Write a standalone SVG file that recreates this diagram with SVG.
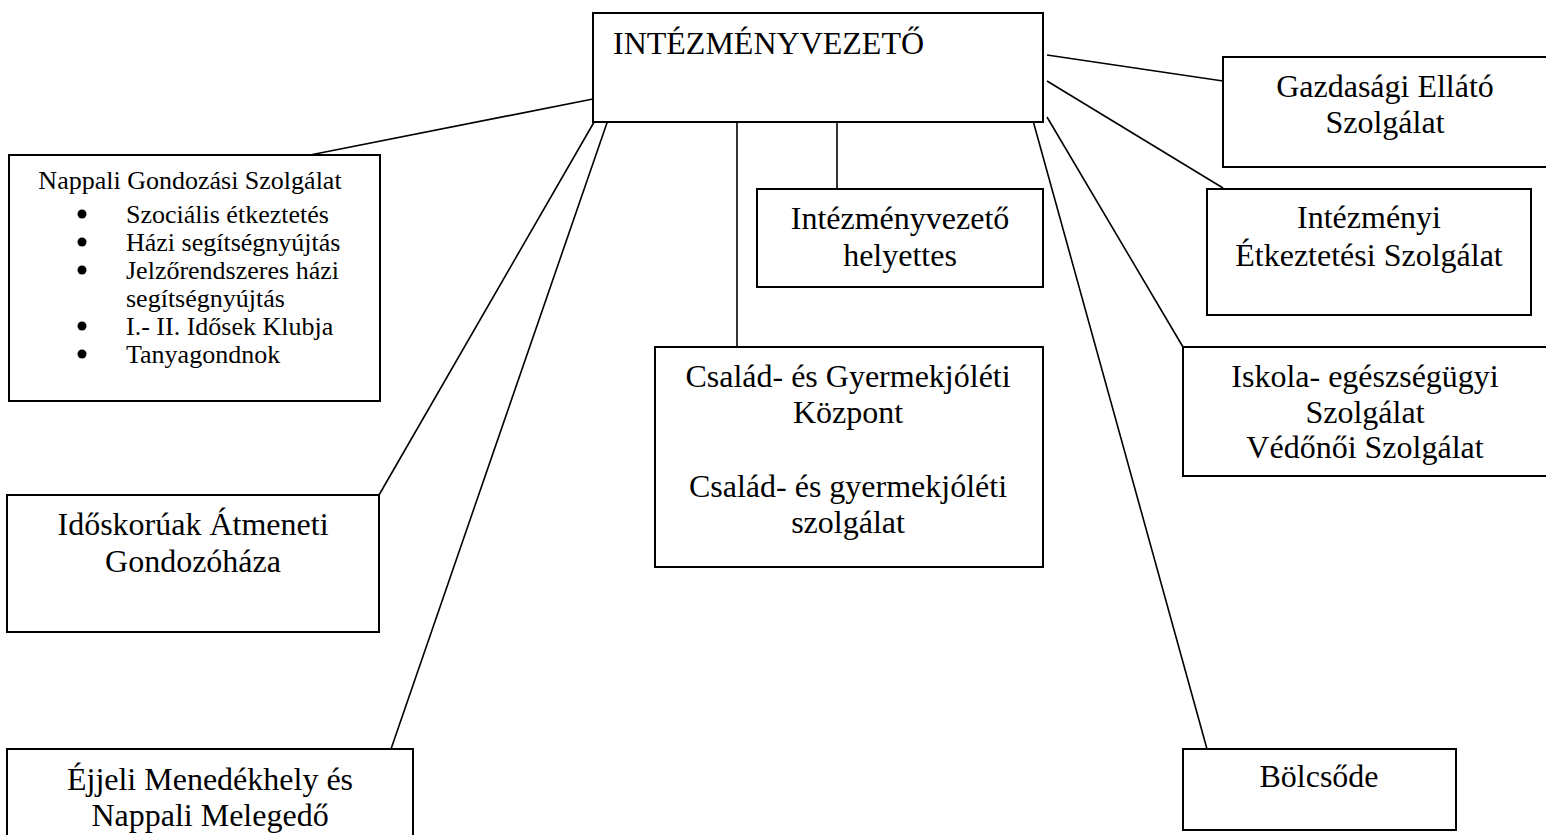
<svg xmlns="http://www.w3.org/2000/svg" width="1546" height="835" viewBox="0 0 1546 835">
<style>
.box{fill:#fff;stroke:#000;stroke-width:2}
.t{font-family:"Liberation Serif","Times New Roman",serif;font-size:32px;fill:#000;text-anchor:middle}
.s{font-family:"Liberation Serif","Times New Roman",serif;font-size:26px;fill:#000}
.c{stroke:#000;stroke-width:1.6;fill:none}
</style>
<rect width="1546" height="835" fill="#fff"/>
<g id="connectors">
<line class="c" x1="598" y1="98" x2="310" y2="155"/>
<line class="c" x1="597" y1="117" x2="379" y2="495"/>
<line class="c" x1="609" y1="117" x2="391" y2="749"/>
<line class="c" x1="737" y1="117" x2="737" y2="347"/>
<line class="c" x1="837" y1="117" x2="837" y2="189"/>
<line class="c" x1="1032" y1="117" x2="1207" y2="749"/>
<line class="c" x1="1047" y1="117" x2="1183" y2="347"/>
<line class="c" x1="1047" y1="81" x2="1223" y2="188"/>
<line class="c" x1="1047" y1="55" x2="1223" y2="81"/>
</g>
<g id="intezmenyvezeto">
<rect class="box" x="593" y="13" width="450" height="109"/>
<text class="t" x="613" y="54" style="text-anchor:start">INTÉZMÉNYVEZETŐ</text>
</g>
<g id="nappali">
<rect class="box" x="9" y="155" width="371" height="246"/>
<text class="s" x="190" y="189" text-anchor="middle">Nappali Gondozási Szolgálat</text>
<circle cx="82" cy="214" r="4.5"/>
<text class="s" x="126" y="222.5">Szociális étkeztetés</text>
<circle cx="82" cy="242" r="4.5"/>
<text class="s" x="126" y="250.5">Házi segítségnyújtás</text>
<circle cx="82" cy="270" r="4.5"/>
<text class="s" x="126" y="278.5">Jelzőrendszeres házi</text>
<text class="s" x="126" y="306.5">segítségnyújtás</text>
<circle cx="82" cy="326" r="4.5"/>
<text class="s" x="126" y="334.5">I.- II. Idősek Klubja</text>
<circle cx="82" cy="354" r="4.5"/>
<text class="s" x="126" y="362.5">Tanyagondnok</text>
</g>
<g id="idoskoruak">
<rect class="box" x="7" y="495" width="372" height="137"/>
<text class="t" x="193" y="535">Időskorúak Átmeneti</text>
<text class="t" x="193" y="572">Gondozóháza</text>
</g>
<g id="ejjeli">
<rect class="box" x="7" y="749" width="406" height="100"/>
<text class="t" x="210" y="790">Éjjeli Menedékhely és</text>
<text class="t" x="210" y="826">Nappali Melegedő</text>
</g>
<g id="helyettes">
<rect class="box" x="757" y="189" width="286" height="98"/>
<text class="t" x="900" y="229">Intézményvezető</text>
<text class="t" x="900" y="266">helyettes</text>
</g>
<g id="csalad">
<rect class="box" x="655" y="347" width="388" height="220"/>
<text class="t" x="848" y="387">Család- és Gyermekjóléti</text>
<text class="t" x="848" y="423">Központ</text>
<text class="t" x="848" y="497">Család- és gyermekjóléti</text>
<text class="t" x="848" y="533">szolgálat</text>
</g>
<g id="gazdasagi">
<rect class="box" x="1223" y="57" width="340" height="110"/>
<text class="t" x="1385" y="97">Gazdasági Ellátó</text>
<text class="t" x="1385" y="133">Szolgálat</text>
</g>
<g id="intezmenyi">
<rect class="box" x="1207" y="189" width="324" height="126"/>
<text class="t" x="1369" y="228">Intézményi</text>
<text class="t" x="1369" y="266">Étkeztetési Szolgálat</text>
</g>
<g id="iskola">
<rect class="box" x="1183" y="347" width="380" height="129"/>
<text class="t" x="1365" y="387">Iskola- egészségügyi</text>
<text class="t" x="1365" y="423">Szolgálat</text>
<text class="t" x="1365" y="458">Védőnői Szolgálat</text>
</g>
<g id="bolcsode">
<rect class="box" x="1183" y="749" width="273" height="81"/>
<text class="t" x="1319" y="787">Bölcsőde</text>
</g>
</svg>
